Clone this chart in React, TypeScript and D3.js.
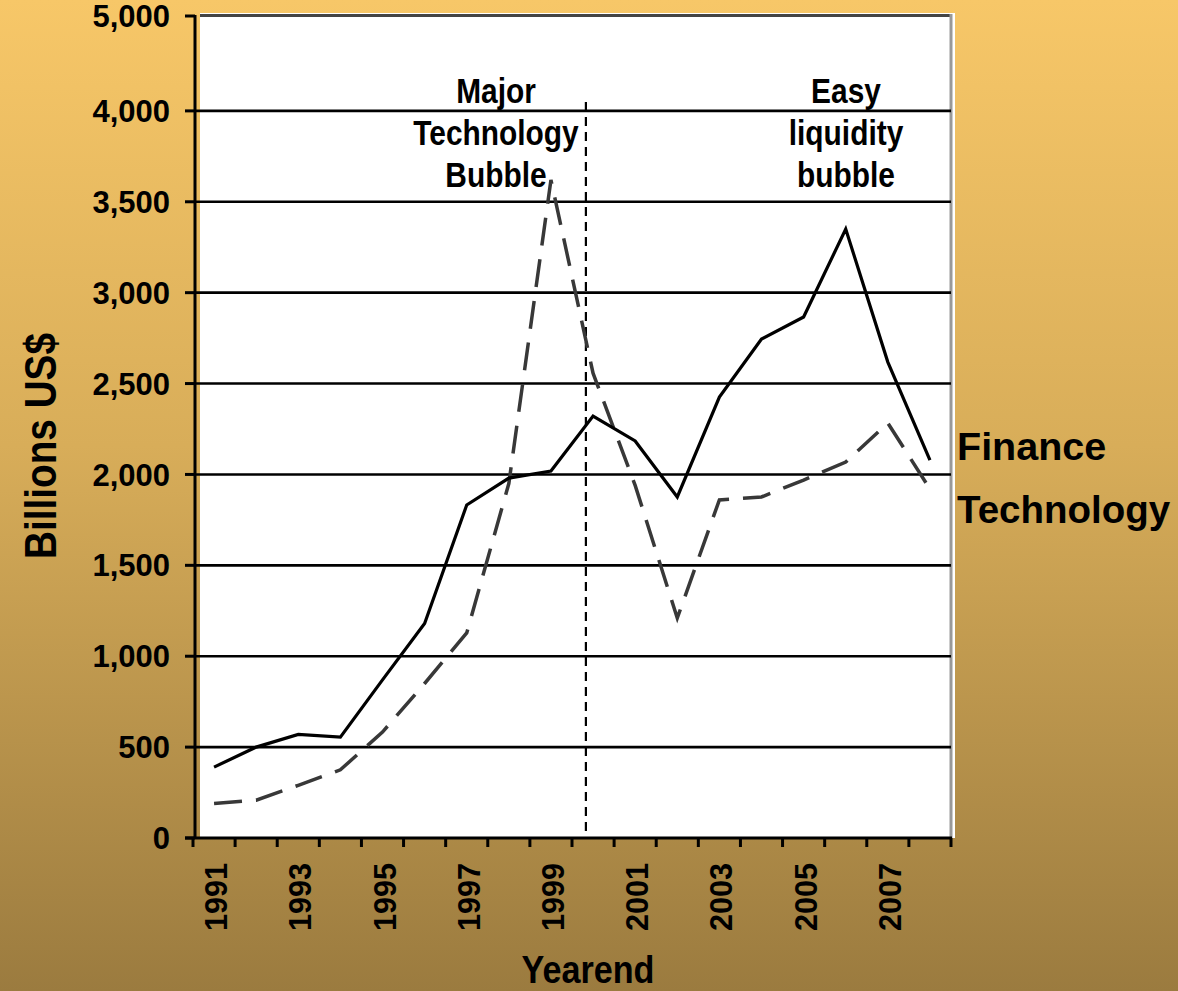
import React from "react";
import * as d3 from "d3";

const years = ["1991","1992","1993","1994","1995","1996","1997","1998","1999","2000","2001","2002","2003","2004","2005","2006","2007","2008"];
const financeValues = [390, 500, 570, 555, 870, 1180, 1832, 1980, 2019, 2321, 2184, 1876, 2426, 2745, 2866, 3350, 2618, 2079];
const technologyValues = [190, 208, 290, 375, 583, 850, 1128, 1950, 3620, 2557, 1940, 1210, 1860, 1876, 1969, 2068, 2283, 1920];
const yTickValues = [0, 500, 1000, 1500, 2000, 2500, 3000, 3500, 4000, 4500];
const yTickLabels = ["0", "500", "1,000", "1,500", "2,000", "2,500", "3,000", "3,500", "4,000", "5,000"];
const xLabelYears = ["1991","1993","1995","1997","1999","2001","2003","2005","2007"];
const seriesNames = ["Finance", "Technology"];
const annotationLeft = ["Major", "Technology", "Bubble"];
const annotationRight = ["Easy", "liquidity", "bubble"];
const dividerYear = "2000";
const dividerOffset = 0.33; // fraction of a band into the divider year

const W = 1178;
const H = 991;
const FONT = "'Liberation Sans', Arial, sans-serif";

export default function App() {
  const x = d3.scaleBand<string>().domain(years).range([193, 951]).padding(0);
  const y = d3.scaleLinear().domain([0, 4500]).range([838, 20]);
  const cx = (yr: string) => (x(yr) as number) + x.bandwidth() / 2;

  const line = d3
    .line<number>()
    .x((_, i) => cx(years[i]))
    .y((v) => y(v));

  const divX = (x(dividerYear) as number) + x.bandwidth() * dividerOffset;
  const edges = years.map((yr) => x(yr) as number).concat([951]);

  return (
    <svg width={W} height={H} style={{ position: "absolute", left: 0, top: 0 }} fontFamily={FONT}>
      <defs>
        <linearGradient id="bg" x1="0" y1="0" x2="0" y2="1">
          <stop offset="0%" stopColor="#F7C768" />
          <stop offset="45%" stopColor="#D8AD59" />
          <stop offset="100%" stopColor="#9B7B3F" />
        </linearGradient>
      </defs>
      <rect x={0} y={0} width={W} height={H} fill="url(#bg)" />
      {/* plot area */}
      <rect x={200} y={13} width={755} height={825} fill="#ffffff" />
      <line x1={200} x2={952} y1={15.5} y2={15.5} stroke="#444" strokeWidth={3} />
      <line x1={951} x2={951} y1={14} y2={838} stroke="#999" strokeWidth={3} />

      {/* gridlines */}
      {yTickValues.slice(1, -1).map((v) => (
        <line key={"g" + v} x1={194} x2={951} y1={y(v)} y2={y(v)} stroke="#000" strokeWidth={2.6} />
      ))}

      {/* y axis */}
      <line x1={195} x2={195} y1={15} y2={839} stroke="#000" strokeWidth={3} />
      {yTickValues.map((v, i) => (
        <g key={"yt" + v}>
          <line x1={185} x2={195} y1={v === 4500 ? 16 : y(v)} y2={v === 4500 ? 16 : y(v)} stroke="#000" strokeWidth={3} />
          <text
            x={170}
            y={v === 4500 ? 16 : y(v)}
            dy="0.36em"
            textAnchor="end"
            fontSize={31}
            fontWeight="bold"
            fill="#000"
          >
            {yTickLabels[i]}
          </text>
        </g>
      ))}

      {/* x axis */}
      <line x1={185} x2={952} y1={838} y2={838} stroke="#000" strokeWidth={3} />
      {edges.map((ex, i) => (
        <line key={"xt" + i} x1={ex} x2={ex} y1={838} y2={847} stroke="#000" strokeWidth={3} />
      ))}
      {xLabelYears.map((yr) => (
        <text
          key={"xl" + yr}
          transform={`translate(${cx(yr) + 13},863) rotate(-90)`}
          textAnchor="end"
          fontSize={31}
          fontWeight="bold"
          fill="#000"
          textLength={68}
          lengthAdjust="spacingAndGlyphs"
        >
          {yr}
        </text>
      ))}

      {/* divider */}
      <line x1={divX} x2={divX} y1={102} y2={838} stroke="#000" strokeWidth={2.2} strokeDasharray="9,6" />

      {/* series */}
      <path d={line(technologyValues) as string} fill="none" stroke="#383838" strokeWidth={3.5} strokeDasharray="28,14" />
      <path d={line(financeValues) as string} fill="none" stroke="#000" strokeWidth={3.2} strokeLinejoin="miter" />

      {/* annotations */}
      {annotationLeft.map((t, i) => (
        <text
          key={"al" + t}
          x={496}
          y={103 + i * 42}
          textAnchor="middle"
          fontSize={36}
          fontWeight="bold"
          fill="#000"
          transform={`translate(${496 * (1 - 0.83)},0) scale(0.83,1)`}
        >
          {t}
        </text>
      ))}
      {annotationRight.map((t, i) => (
        <text
          key={"ar" + t}
          x={846}
          y={103 + i * 42}
          textAnchor="middle"
          fontSize={36}
          fontWeight="bold"
          fill="#000"
          transform={`translate(${846 * (1 - 0.83)},0) scale(0.83,1)`}
        >
          {t}
        </text>
      ))}

      {/* series labels */}
      <text x={957} y={460} fontSize={39.5} fontWeight="bold" fill="#000">{seriesNames[0]}</text>
      <text x={957} y={523} fontSize={38.5} fontWeight="bold" fill="#000">{seriesNames[1]}</text>

      {/* axis titles */}
      <text
        transform="translate(56,446) rotate(-90)"
        textAnchor="middle"
        fontSize={44}
        fontWeight="bold"
        fill="#000"
        textLength={226}
        lengthAdjust="spacingAndGlyphs"
      >
        Billions US$
      </text>
      <text
        x={588}
        y={983}
        textAnchor="middle"
        fontSize={38}
        fontWeight="bold"
        fill="#000"
        textLength={133}
        lengthAdjust="spacingAndGlyphs"
      >
        Yearend
      </text>
    </svg>
  );
}
